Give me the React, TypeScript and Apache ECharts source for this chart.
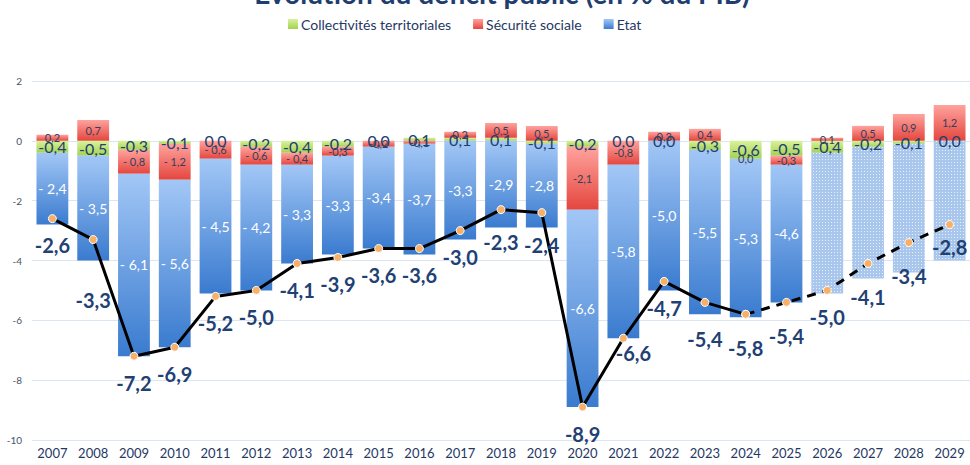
import React, { useEffect, useRef } from "react";
import * as echarts from "echarts";

const years = ["2007","2008","2009","2010","2011","2012","2013","2014","2015","2016","2017","2018","2019","2020","2021","2022","2023","2024","2025","2026","2027","2028","2029"];
const collectivites = [-0.4,-0.5,-0.3,-0.1,0.0,-0.2,-0.4,-0.2,0.0,0.1,0.1,0.1,-0.1,-0.2,0.0,0.0,-0.3,-0.6,-0.5,-0.4,-0.2,-0.1,0.0];
const securiteSociale = [0.2,0.7,-0.8,-1.2,-0.6,-0.6,-0.4,-0.3,-0.2,-0.1,0.2,0.5,0.5,-2.1,-0.8,0.3,0.4,0.0,-0.3,0.1,0.5,0.9,1.2];
const etat = [-2.4,-3.5,-6.1,-5.6,-4.5,-4.2,-3.3,-3.3,-3.4,-3.7,-3.3,-2.9,-2.8,-6.6,-5.8,-5.0,-5.5,-5.3,-4.6,-4.7,-4.4,-4.3,-4.0];
const total = [-2.6,-3.3,-7.2,-6.9,-5.2,-5.0,-4.1,-3.9,-3.6,-3.6,-3.0,-2.3,-2.4,-8.9,-6.6,-4.7,-5.4,-5.8,-5.4,-5.0,-4.1,-3.4,-2.8];
const yTicks = { min: -10, max: 2, interval: 2 };
const firstForecastYear = "2026";
const dashFromYear = "2024";
const spacedMinusUntil = "2013";

const FONT = "Lato, 'Open Sans', sans-serif";
const NAVY = "#1F3864";

const fmt = (v: number) => v.toFixed(1).replace(".", ",").replace(/^-0,0$/, "0,0");
const fmtSpaced = (v: number, idx: number) => {
  const s = fmt(v);
  return years[idx] <= spacedMinusUntil && s.startsWith("-") ? "- " + s.slice(1) : s;
};

const grad = (top: string, bottom: string) =>
  new echarts.graphic.LinearGradient(0, 0, 0, 1, [
    { offset: 0, color: top },
    { offset: 1, color: bottom },
  ]);

const labelOffsets: Record<string, number[]> = {
  "2008": [0, 34],
  "2018": [0, 6],
  "2019": [0, 6],
  "2021": [10, -12],
  "2023": [0, 10],
  "2024": [0, 7],
  "2025": [0, 7],
  "2027": [0, 7],
  "2028": [0, 7],
  "2029": [0, -4],
};

export default function App() {
  const ref = useRef<HTMLDivElement>(null);
  useEffect(() => {
    if (!ref.current) return;
    const chart = echarts.init(ref.current, null, { renderer: "svg" });
    const dashIdx = years.indexOf(dashFromYear);
    const fcIdx = years.indexOf(firstForecastYear);

    const etatData = etat.map((v, i) =>
      i >= fcIdx
        ? {
            value: v,
            itemStyle: {
              color: "#a9c6ec",
              decal: {
                symbol: "rect",
                symbolSize: 1,
                dashArrayX: [1, 2],
                dashArrayY: [1, 2],
                color: "rgba(255,255,255,0.7)",
                rotation: 0,
              },
            },
            label: { show: false },
          }
        : { value: v }
    );

    const lineLabel = (i: number) => ({
      offset: labelOffsets[years[i]] || [0, 0],
    });

    const solidData = total.map((v, i) =>
      i <= dashIdx ? { value: v, label: lineLabel(i) } : { value: null as any }
    );
    const dashData = total.map((v, i) =>
      i >= dashIdx ? { value: v, label: i === dashIdx ? { show: false } : lineLabel(i) } : { value: null as any }
    );

    const lineCommon = {
      type: "line",
      symbol: "circle",
      symbolSize: 8,
      z: 5,
      itemStyle: { color: "#F7B06A", borderColor: "#ffffff", borderWidth: 1 },
      label: {
        show: true,
        position: "bottom",
        distance: 12,
        formatter: (p: any) => fmt(p.value),
        fontFamily: FONT,
        fontSize: 20,
        fontWeight: "bold",
        color: "#1F4173",
      },
    };

    chart.setOption({
      animation: false,
      textStyle: { fontFamily: FONT },
      graphic: [
        {
          type: "text",
          x: 502,
          y: -21,
          style: {
            text: "Evolution du déficit public (en % du PIB)",
            align: "center",
            verticalAlign: "top",
            fontFamily: FONT,
            fontSize: 28,
            fontWeight: "bold",
            fill: "#1F3D6E",
          },
        },
      ],
      legend: {
        top: 12,
        left: 283,
        itemWidth: 10,
        itemHeight: 10,
        itemGap: 22,
        icon: "rect",
        data: ["Collectivités territoriales", "Sécurité sociale", "Etat"],
        textStyle: { fontFamily: FONT, fontSize: 14, color: NAVY, padding: [0, 0, 0, -2] },
      },
      grid: { left: 32, right: 0, top: 81, bottom: 25 },
      xAxis: {
        type: "category",
        data: years,
        axisTick: { show: false },
        axisLine: { show: false, onZero: false },
        axisLabel: { fontFamily: FONT, fontSize: 13, color: NAVY, margin: 6 },
      },
      yAxis: {
        type: "value",
        min: yTicks.min,
        max: yTicks.max,
        interval: yTicks.interval,
        axisLabel: { fontFamily: FONT, fontSize: 10, color: "#44546A", margin: 10 },
        splitLine: { lineStyle: { color: "#DCE5F2", width: 1 } },
      },
      series: [
        {
          name: "Collectivités territoriales",
          type: "bar",
          stack: "d",
          barCategoryGap: "22%",
          data: collectivites,
          itemStyle: { color: grad("#d8f29a", "#a3d255") },
          label: {
            show: true,
            position: "inside",
            formatter: (p: any) => fmt(p.value),
            fontFamily: FONT,
            fontSize: 16,
            color: "#22406E",
          },
        },
        {
          name: "Sécurité sociale",
          type: "bar",
          stack: "d",
          data: securiteSociale,
          itemStyle: { color: grad("#ffa39e", "#e4463e") },
          label: {
            show: true,
            position: "inside",
            formatter: (p: any) => fmtSpaced(p.value, p.dataIndex),
            fontFamily: FONT,
            fontSize: 11,
            color: "#33405E",
          },
        },
        {
          name: "Etat",
          type: "bar",
          stack: "d",
          data: etatData,
          itemStyle: { color: grad("#a2c7f6", "#3a7bcf") },
          label: {
            show: true,
            position: "inside",
            formatter: (p: any) => fmtSpaced(p.value, p.dataIndex),
            fontFamily: FONT,
            fontSize: 14,
            color: "#ffffff",
          },
        },
        {
          ...lineCommon,
          name: "Total",
          data: solidData,
          lineStyle: { color: "#000000", width: 3 },
        },
        {
          ...lineCommon,
          name: "Total prévision",
          data: dashData,
          lineStyle: { color: "#000000", width: 3, type: [9, 7] },
        },
      ],
    });
    return () => chart.dispose();
  }, []);
  return (
    <div
      ref={ref}
      style={{ position: "fixed", left: 0, top: 0, width: 970, height: 465, background: "#ffffff" }}
    />
  );
}
